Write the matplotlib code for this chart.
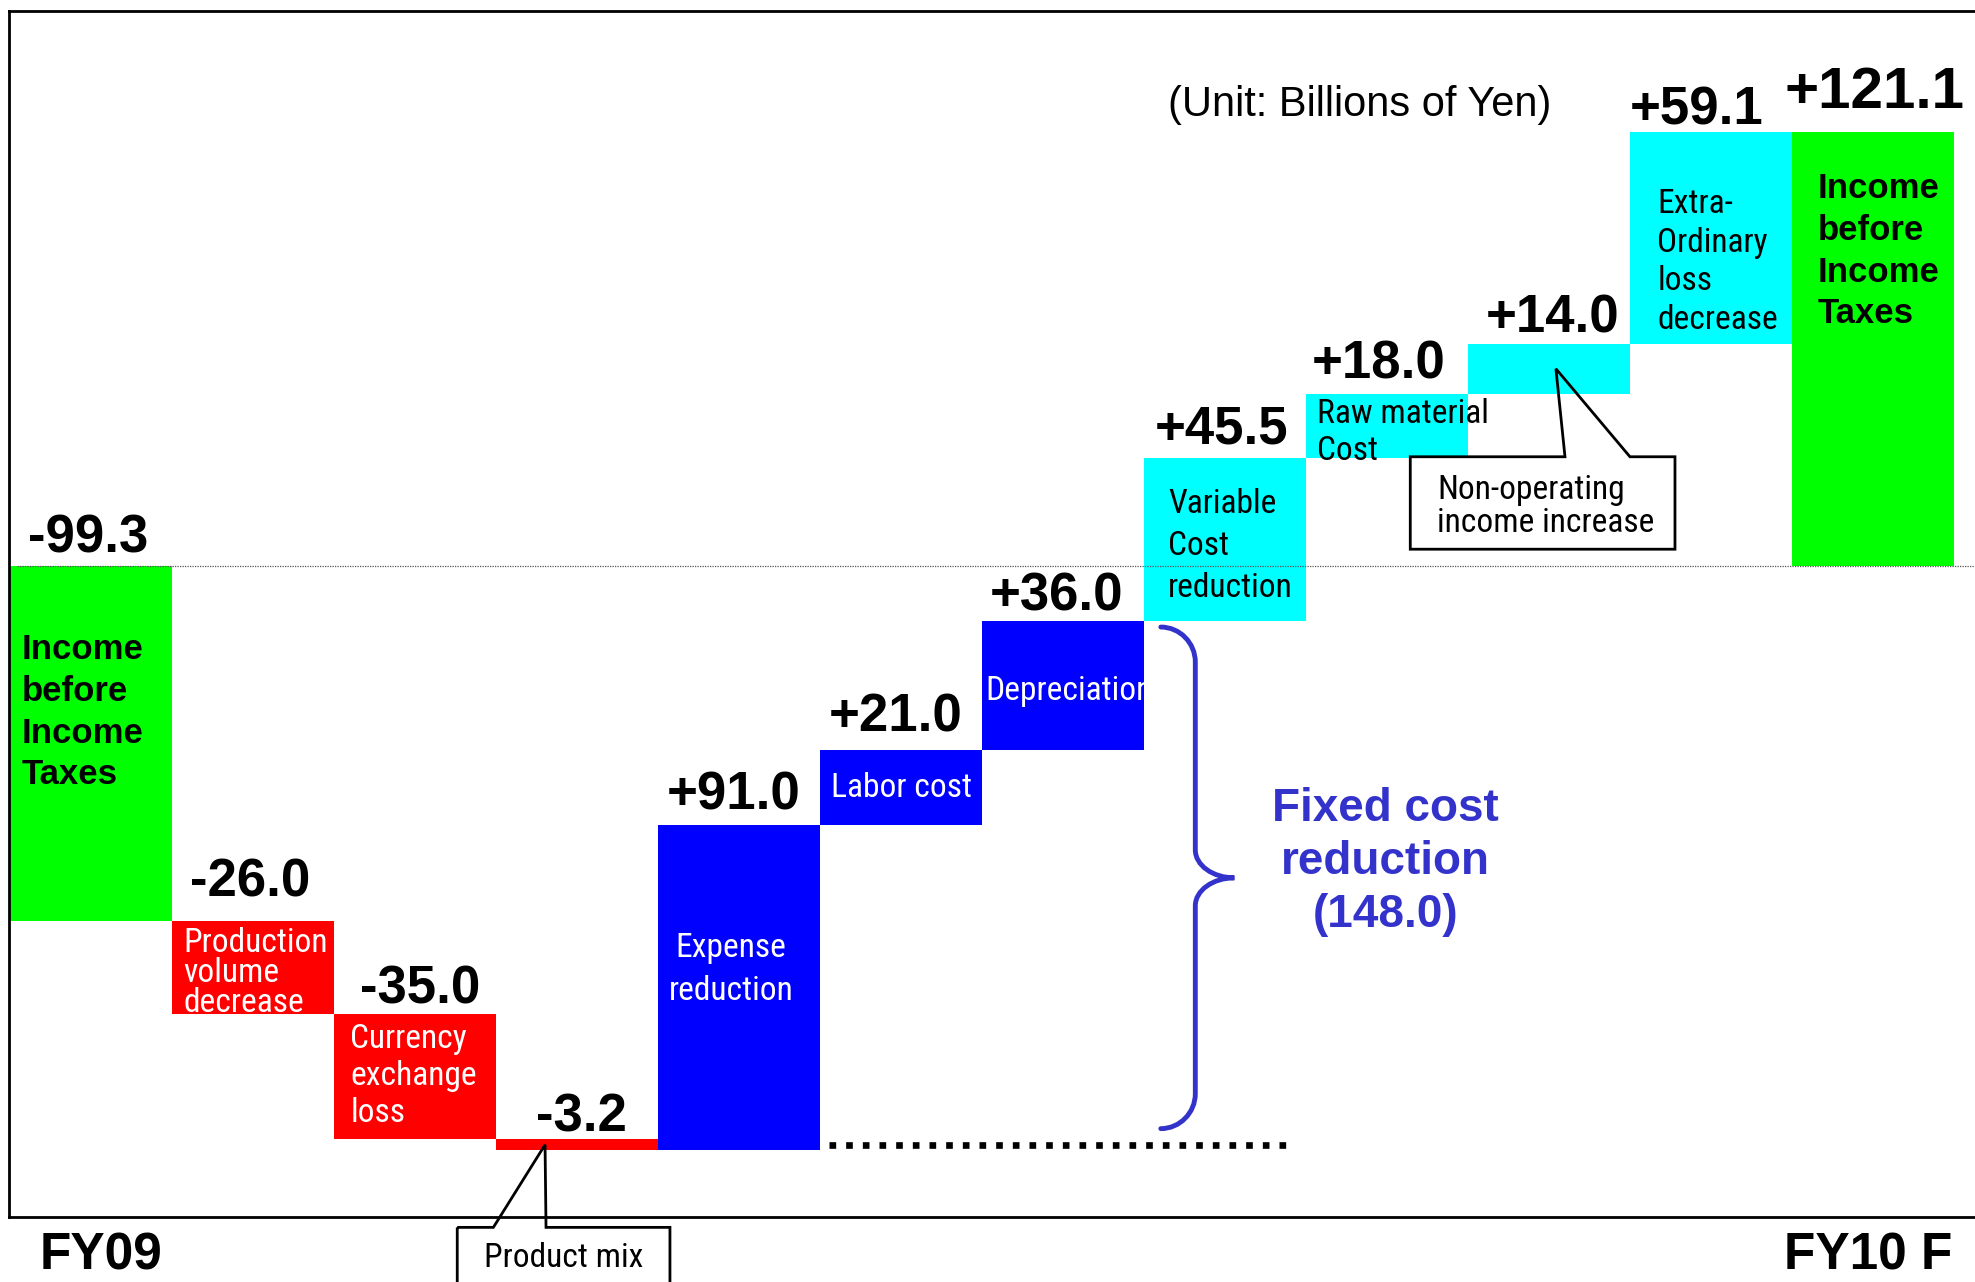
import matplotlib.pyplot as plt
from matplotlib.font_manager import FontProperties
from matplotlib.patches import Polygon, PathPatch
from matplotlib.path import Path

plt.rcParams['font.family'] = ['Liberation Sans', 'DejaVu Sans']
NARROW = ['Liberation Sans Narrow', 'Arial Narrow', 'Roboto Condensed', 'Archivo Narrow',
          'PT Sans Narrow', 'Liberation Sans']

# income before income taxes, FY09 -> FY10 forecast (billions of yen)
items = ['Income\nbefore\nIncome\nTaxes', 'Production\nvolume\ndecrease', 'Currency\nexchange\nloss',
         'Product mix', 'Expense\nreduction', 'Labor cost', 'Depreciation',
         'Variable\nCost\nreduction', 'Raw material\nCost', 'Non-operating\nincome increase',
         'Extra-\nOrdinary\nloss\ndecrease', 'Income\nbefore\nIncome\nTaxes']
values = [-99.3, -26.0, -35.0, -3.2, 91.0, 21.0, 36.0, 45.5, 18.0, 14.0, 59.1, 121.1]
groups = ['total', 'loss', 'loss', 'loss', 'fixed', 'fixed', 'fixed',
          'var', 'var', 'var', 'var', 'total']
periods = ['FY09', 'FY10 F']
unit = '(Unit: Billions of Yen)'
callout_items = [3, 9]   # these two get a balloon instead of text in the bar

colors = {'total': '#00ff00', 'loss': '#ff0000', 'fixed': '#0000ff', 'var': '#00ffff'}
text_colors = {'total': 'black', 'loss': 'white', 'fixed': 'white', 'var': 'black'}
purple = '#3333cc'

# waterfall bottoms / heights
bottoms, heights = [], []
level = 0.0
for v, g in zip(values, groups):
    if g == 'total':
        bottoms.append(0.0)
        level = v
    else:
        bottoms.append(level)
        level += v
    heights.append(v)
x = list(range(len(values)))
tops = [max(b, b + h) for b, h in zip(bottoms, heights)]

fig = plt.figure(figsize=(19.75, 12.82), dpi=100)
ax = fig.add_axes([9 / 1975, 65 / 1282, 1966 / 1975, 1206 / 1282])
ax.bar(x, heights, bottom=bottoms, width=1.0, color=[colors[g] for g in groups], zorder=2)
ax.set_xlim(-0.506, 11.63)
ax.set_ylim(-182.1, 155.0)
ax.set_xticks([])
ax.set_yticks([])
ax.spines['right'].set_visible(False)
for s in ['left', 'top', 'bottom']:
    ax.spines[s].set_linewidth(2)
ax.axhline(0, xmin=0.004, color='#555555', lw=0.9, ls=(0, (1, 1)), zorder=3)

renderer = fig.canvas.get_renderer()


def text_w(s, prop):
    return renderer.get_text_width_height_descent(s, prop, ismath=False)[0]


def spacing(px, prop):
    # linespacing that puts baselines about px pixels apart (measured on a probe text)
    t1 = ax.text(0, 0, 'l', fontproperties=prop, linespacing=1.0)
    t2 = ax.text(0, 0, 'l\nl', fontproperties=prop, linespacing=1.0)
    step = t2.get_window_extent(renderer).height - t1.get_window_extent(renderer).height
    t1.remove()
    t2.remove()
    return px / step


# size the condensed face so its words come out about as wide as in the slide
probe = FontProperties(family=NARROW, size=24)
targets = {'Production': 137, 'Labor cost': 135, 'Depreciation': 161, 'Product mix': 150,
           'income increase': 208}
narrow_pt = 1.05 * 24 * sum(targets.values()) / sum(text_w(s, probe) for s in targets)
narrow = FontProperties(family=NARROW, size=narrow_pt)
bold25 = FontProperties(family=['Liberation Sans'], weight='bold', size=25)

# value labels over each bar
label_gap = [3.7, 6.7, 2.8, 2.2, 4.2, 5.2, 3.0, 4.1, 4.2, 3.1, 2.3, 6.7]
label_dx = [-0.02, -0.02, 0.03, 0.03, -0.03, -0.03, -0.04, -0.02, -0.05, 0.02, -0.09, 0.01]
for i, v in enumerate(values):
    ax.text(x[i] + label_dx[i], tops[i] + label_gap[i], f'{v:+.1f}', ha='center', va='baseline',
            fontsize=42 if i == len(values) - 1 else 38, fontweight='bold', zorder=4)

# text inside the bars: (dx from bar centre, dy from bar top, ha, baseline step in px)
inside = {0: (-0.43, -19.0, 'left', 44.0), 1: (-0.43, -1.8, 'left', 29.5),
          2: (-0.40, -2.5, 'left', 38.6), 4: (-0.05, -29.9, 'center', 46.5),
          5: (-0.43, -6.2, 'left', 30), 6: (-0.48, -15.1, 'left', 30),
          7: (-0.35, -8.2, 'left', 44.8), 8: (-0.43, -1.1, 'left', 38.8),
          10: (-0.33, -15.5, 'left', 40.7), 11: (-0.34, -11.2, 'left', 44.0)}
for i, (dx, dy, ha, step) in inside.items():
    prop = bold25 if groups[i] == 'total' else narrow
    ax.text(x[i] + dx, tops[i] + dy, items[i], ha=ha, va='top', fontproperties=prop,
            linespacing=spacing(step, prop), color=text_colors[groups[i]], zorder=4)


def callout(box, base, tip, clip=True):
    x0, x1, y0, y1 = box
    verts = [(x0, y1), (base[0], y1), tip, (base[1], y1), (x1, y1), (x1, y0), (x0, y0)]
    ax.add_patch(Polygon(verts, closed=True, facecolor='none', edgecolor='black',
                         lw=2, zorder=5, clip_on=clip))


pm, no = callout_items
callout((2.261, 3.574, -240, -185.0), (2.484, 2.809),
        (x[pm] - 0.197, bottoms[pm] + heights[pm] / 2), clip=False)
ax.text(2.92, -196.0, items[pm], ha='center', va='baseline', fontproperties=narrow,
        clip_on=False, zorder=5)
callout((8.144, 9.778, 4.56, 30.4), (9.099, 9.500), (x[no] + 0.043, bottoms[no] + heights[no] / 2))
ax.text(8.312, 25.6, items[no], ha='left', va='top', fontproperties=narrow,
        linespacing=spacing(33, narrow), zorder=5)

# fixed cost brace
fixed = [i for i, g in enumerate(groups) if g == 'fixed']
y_hi = tops[fixed[-1]] - 1.7
y_lo = bottoms[fixed[0]] + 6.1
ym = (y_hi + y_lo) / 2
x0, x1, x2 = 6.604, 6.817, 7.058
re, rt = 9.8, 7.8
verts = [(x0, y_hi),
         (x0 + 0.55 * (x1 - x0), y_hi), (x1, y_hi - 0.45 * re), (x1, y_hi - re),
         (x1, ym + rt),
         (x1, ym + 0.45 * rt), (x1 + 0.45 * (x2 - x1), ym), (x2, ym),
         (x1 + 0.45 * (x2 - x1), ym), (x1, ym - 0.45 * rt), (x1, ym - rt),
         (x1, y_lo + re),
         (x1, y_lo + 0.45 * re), (x0 + 0.55 * (x1 - x0), y_lo), (x0, y_lo)]
codes = [Path.MOVETO] + [Path.CURVE4] * 3 + [Path.LINETO] + [Path.CURVE4] * 6 + \
        [Path.LINETO] + [Path.CURVE4] * 3
ax.add_patch(PathPatch(Path(verts, codes), facecolor='none', edgecolor=purple, lw=3.5,
                       capstyle='round', zorder=4))
fixed_total = sum(values[i] for i in fixed)
bold33 = FontProperties(family=['Liberation Sans'], weight='bold', size=33)
ax.text(7.99, -62.0, f'Fixed cost\nreduction\n({fixed_total:.1f})', ha='center', va='top',
        fontproperties=bold33, color=purple, linespacing=spacing(55.5, bold33), zorder=4)

# dotted line under the fixed cost steps
ax.plot([4.555, 7.375], [bottoms[fixed[0]] + 1.4] * 2, color='black', lw=4.8,
        ls=(0, (1, 1.5)), zorder=4)

ax.text(6.646, 134.4, unit, ha='left', va='top', fontsize=30, zorder=4)

fig.text(40 / 1975, 1 / 1282, periods[0], ha='left', va='bottom', fontsize=37, fontweight='bold')
fig.text(1952 / 1975, 1 / 1282, periods[1], ha='right', va='bottom', fontsize=37, fontweight='bold')

fig.savefig('out.png', dpi=100)
